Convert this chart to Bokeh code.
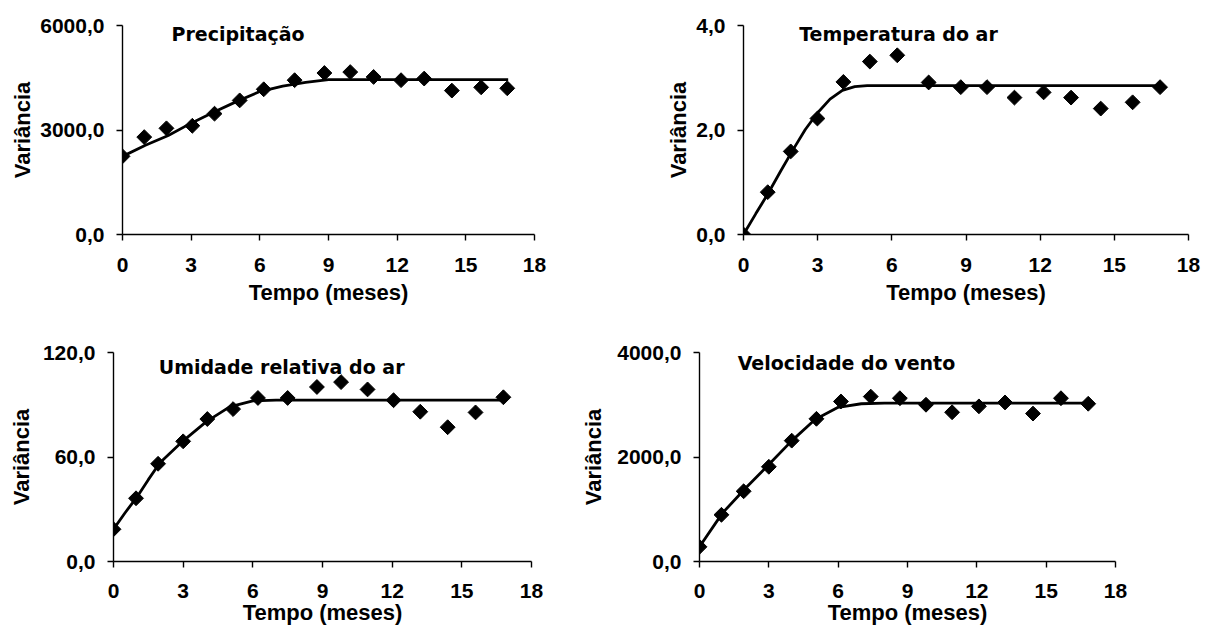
import numpy as np
from bokeh.plotting import figure
from bokeh.layouts import column, row
from bokeh.models import FixedTicker, Label, Range1d, CustomJSTickFormatter
from bokeh.embed import file_html
from bokeh.resources import INLINE

# ---------------- data ----------------
x_ticks = [0, 3, 6, 9, 12, 15, 18]

prec_title = "Precipitação"
prec_x = [0, 0.95, 1.92, 3.05, 4.02, 5.12, 6.17, 7.52, 8.82, 9.95, 10.97, 12.17, 13.18, 14.39, 15.67, 16.81]
prec_y = [2243, 2796, 3048, 3121, 3468, 3850, 4169, 4430, 4636, 4663, 4523, 4430, 4477, 4131, 4225, 4197]
prec_line_x = [0, 1, 2, 3, 4, 5, 6, 7, 8, 9, 16.85]
prec_line_y = [2243, 2561, 2841, 3197, 3514, 3822, 4103, 4262, 4365, 4449, 4449]
prec_yticks = [0, 3000, 6000]

temp_title = "Temperatura do ar"
temp_x = [0, 0.98, 1.91, 2.99, 4.04, 5.11, 6.22, 7.49, 8.79, 9.85, 10.96, 12.14, 13.25, 14.45, 15.74, 16.85]
temp_y = [0, 0.81, 1.59, 2.22, 2.92, 3.31, 3.43, 2.91, 2.82, 2.82, 2.62, 2.72, 2.62, 2.41, 2.53, 2.82]
temp_line_x = [0, 0.5, 1, 1.5, 2, 2.5, 3, 3.5, 4, 4.5, 5, 16.85]
temp_line_y = [0, 0.40, 0.79, 1.21, 1.62, 2.01, 2.33, 2.59, 2.76, 2.83, 2.85, 2.85]
temp_yticks = [0, 2, 4]

umid_title = "Umidade relativa do ar"
umid_x = [0, 0.97, 1.92, 3.0, 4.04, 5.15, 6.22, 7.50, 8.76, 9.80, 10.94, 12.06, 13.21, 14.39, 15.59, 16.79]
umid_y = [18.5, 36.3, 56.1, 69.0, 81.8, 87.5, 93.9, 93.9, 100.2, 103.0, 98.8, 92.6, 86.0, 77.1, 85.6, 94.3]
umid_line_x = [0, 0.5, 1, 1.5, 2, 3, 4, 5, 6, 7, 16.79]
umid_line_y = [18.5, 28.0, 36.8, 47.0, 56.7, 69.3, 80.3, 88.8, 92.2, 92.6, 92.6]
umid_yticks = [0, 60, 120]

vent_title = "Velocidade do vento"
vent_x = [0, 0.95, 1.91, 3.0, 3.99, 5.06, 6.12, 7.41, 8.67, 9.80, 10.93, 12.09, 13.22, 14.43, 15.64, 16.82]
vent_y = [281, 894, 1344, 1813, 2313, 2731, 3063, 3156, 3125, 3000, 2856, 2969, 3044, 2831, 3125, 3019]
vent_line_x = [0, 1, 2, 3, 4, 5, 6, 7, 8, 16.82]
vent_line_y = [281, 930, 1406, 1856, 2313, 2719, 2950, 3019, 3031, 3031]
vent_yticks = [0, 2000, 4000]

x_label = "Tempo (meses)"
y_label = "Variância"

TICK_FONT = "Liberation Sans"
TITLE_FONT = "DejaVu Sans"


def panel(xs, ys, lx, ly, yticks, title, tx, ty, w, h, bl, br, bt, bb,
          tick_standoff, xlab_standoff, ylab_standoff):
    p = figure(width=w, height=h, min_border_left=bl, min_border_right=br,
               min_border_top=bt, min_border_bottom=bb,
               x_range=Range1d(0, 18), y_range=Range1d(yticks[0], yticks[-1]),
               output_backend="svg", toolbar_location=None)
    p.outline_line_color = None
    p.xgrid.visible = False
    p.ygrid.visible = False
    p.background_fill_color = "white"
    p.border_fill_color = "white"

    p.line(lx, ly, line_width=2.8, color="black")
    p.scatter(xs, ys, marker="square", size=10.5, angle=np.pi / 4,
              fill_color="black", line_color="black")

    for ax in (p.xaxis[0], p.yaxis[0]):
        ax.axis_line_color = "black"
        ax.axis_line_width = 1.4
        ax.major_tick_line_color = "black"
        ax.major_tick_line_width = 1.4
        ax.major_tick_in = 0
        ax.major_tick_out = 6
        ax.minor_tick_line_color = None
        ax.major_label_text_font = TICK_FONT
        ax.major_label_text_font_style = "bold"
        ax.major_label_text_font_size = "21px"
        ax.major_label_text_color = "black"
        ax.axis_label_text_font = TICK_FONT
        ax.axis_label_text_font_style = "bold"
        ax.axis_label_text_font_size = "22px"
        ax.axis_label_text_color = "black"

    p.xaxis.ticker = FixedTicker(ticks=x_ticks)
    p.xaxis.major_label_standoff = tick_standoff
    p.xaxis.axis_label = x_label
    p.xaxis.axis_label_standoff = xlab_standoff

    p.yaxis.ticker = FixedTicker(ticks=yticks)
    p.yaxis.formatter = CustomJSTickFormatter(code="return tick.toFixed(1).replace('.', ',');")
    p.yaxis.major_label_standoff = 12
    p.yaxis.axis_label = y_label
    p.yaxis.axis_label_standoff = ylab_standoff

    p.add_layout(Label(x=tx, y=ty, text=title, text_font=TITLE_FONT,
                       text_font_style="bold", text_font_size="19px",
                       text_color="black", text_align="left",
                       text_baseline="alphabetic"))
    return p


p1 = panel(prec_x, prec_y, prec_line_x, prec_line_y, prec_yticks, prec_title,
           2.14, 5748, w=628, h=323, bl=122, br=94, bt=25, bb=84,
           tick_standoff=17, xlab_standoff=5, ylab_standoff=2)
p2 = panel(temp_x, temp_y, temp_line_x, temp_line_y, temp_yticks, temp_title,
           2.25, 3.84, w=583, h=323, bl=115, br=23, bt=24, bb=89,
           tick_standoff=17, xlab_standoff=5, ylab_standoff=2)
p3 = panel(umid_x, umid_y, umid_line_x, umid_line_y, umid_yticks, umid_title,
           1.95, 111.7, w=578, h=307, bl=113, br=47, bt=29, bb=68,
           tick_standoff=16, xlab_standoff=-1, ylab_standoff=6)
p4 = panel(vent_x, vent_y, vent_line_x, vent_line_y, vent_yticks, vent_title,
           1.65, 3799, w=633, h=307, bl=117, br=96, bt=25, bb=69,
           tick_standoff=16, xlab_standoff=-1, ylab_standoff=8)

layout = column(row(p1, p2, spacing=0), row(p3, p4, spacing=0), spacing=0)

open("out.html", "w").write(file_html(layout, INLINE))
